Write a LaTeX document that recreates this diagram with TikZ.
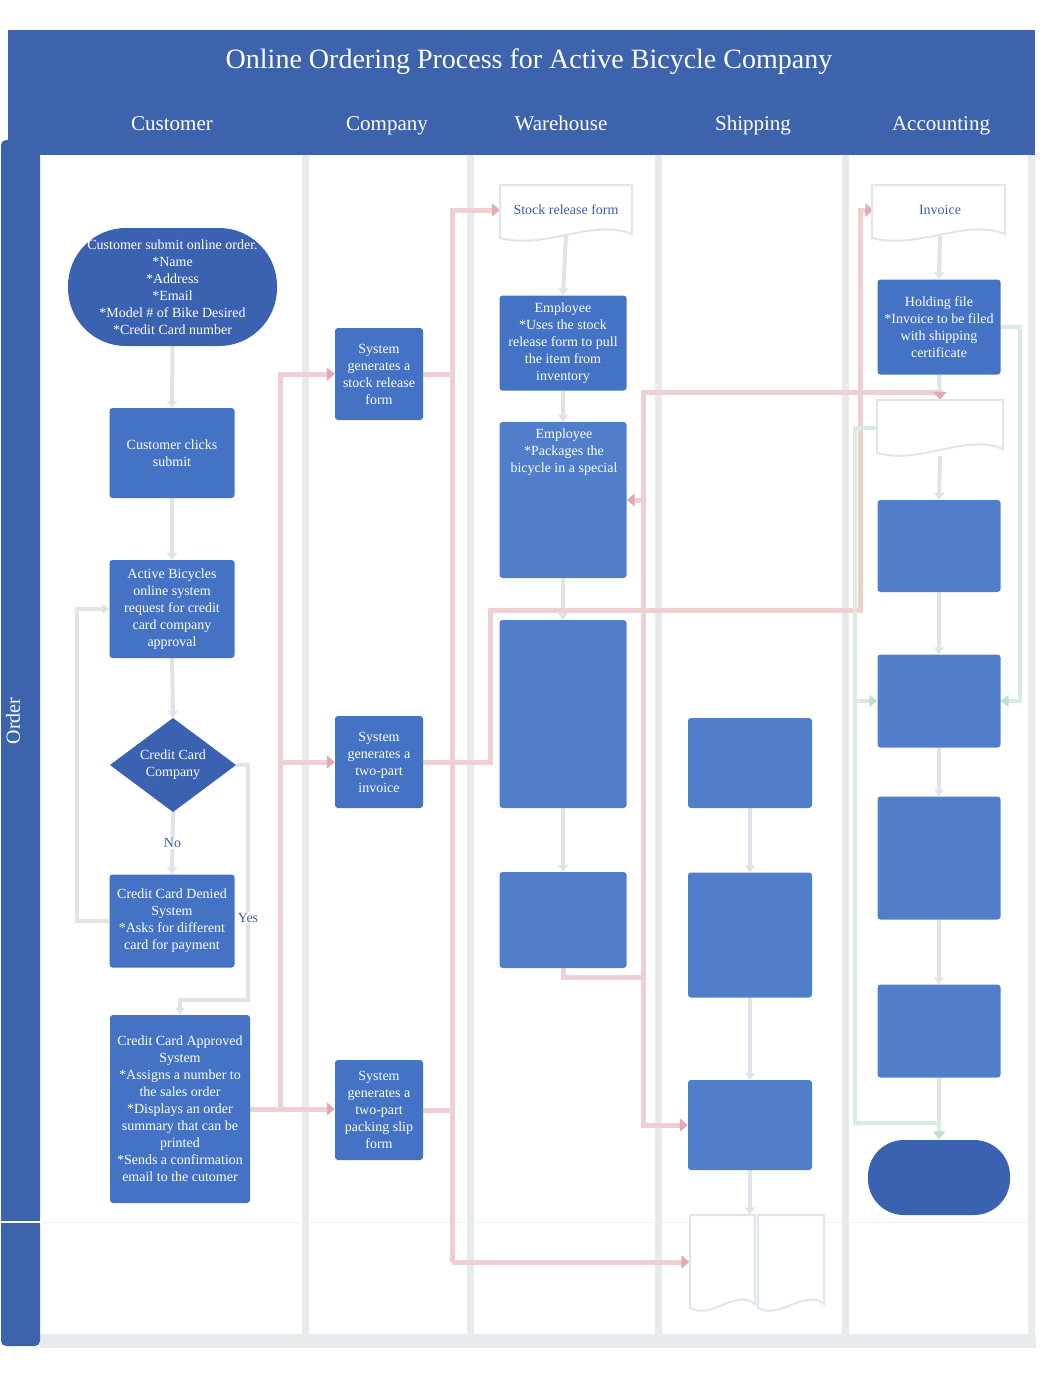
\documentclass[tikz,border=0pt]{standalone}
\usepackage{fontspec}
\setmainfont{Liberation Serif}
\usetikzlibrary{arrows.meta}
\definecolor{hdrblue}{RGB}{62,99,173}
\definecolor{boxblue}{RGB}{68,114,196}
\definecolor{blankblue}{RGB}{80,126,202}
\definecolor{ellblue}{RGB}{58,98,176}
\definecolor{lanegray}{RGB}{231,235,238}
\definecolor{redline}{RGB}{238,208,211}
\definecolor{reddot}{RGB}{226,170,177}
\definecolor{greenline}{RGB}{216,237,224}
\definecolor{greendot}{RGB}{190,224,204}
\definecolor{grayline}{RGB}{224,228,232}
\definecolor{txtblue}{RGB}{59,94,168}
\definecolor{docline}{RGB}{222,229,238}
\newcommand\nodefont{\fontsize{14}{17}\selectfont}
\newcommand\docshape[4]{%
  \pgfmathsetmacro\dw{#3-#1}%
  \filldraw[draw=docline, line width=2pt, fill=white]
    (#1,#2) -- (#3,#2) -- (#3,#4-8)
    .. controls (#3-0.3*\dw,#4-24) and (#1+0.35*\dw,#4+8) .. (#1,#4-4) -- cycle;}
\pgfdeclarelayer{back}
\pgfdeclarelayer{conn}
\pgfsetlayers{back,conn,main}
\begin{document}
\begin{tikzpicture}[x=1pt,y=-1pt,
  txt/.style={inner sep=0pt, align=center, text=white, font=\nodefont},
  proc/.style={txt, fill=boxblue, rounded corners=3pt},
  blank/.style={fill=blankblue, rounded corners=3pt, inner sep=0pt},
  doctxt/.style={inner sep=0pt, align=center, text=txtblue, font=\nodefont},
  lbl/.style={inner sep=1pt, text=txtblue, font=\nodefont},
  lanelab/.style={text=white, font=\fontsize{21}{24}\selectfont, inner sep=0pt, anchor=base},
  gc/.style={draw=grayline, line width=4pt, -{Triangle[length=7pt,width=10pt]}},
  rc/.style={draw=redline, line width=5pt, -{Triangle[length=8pt,width=13pt,color=reddot]}},
  rcn/.style={draw=redline, line width=5pt},
  grc/.style={draw=greenline, line width=4pt, -{Triangle[length=8pt,width=12pt,color=greendot]}},
]
\useasboundingbox (0,0) rectangle (1062,1376);
\begin{pgfonlayer}{back}
\fill[white] (0,0) rectangle (1062,1376);
% frame
\fill[lanegray] (40,1334) rectangle (1036,1348);
\foreach \lx in {305,470,658,845,1031}
  \draw[lanegray, line width=7pt] (\lx,155) -- (\lx,1340);
\fill[hdrblue] (8,30) rectangle (1035,155);
\fill[hdrblue, rounded corners=5pt] (1,140) rectangle (40,1346);
\draw[white, line width=2pt] (0,1222) -- (42,1222);
\draw[lanegray!70, line width=1pt] (42,1222) -- (1036,1222);
\end{pgfonlayer}

% header
\node[text=white, font=\fontsize{28}{30}\selectfont, inner sep=0pt, anchor=base] (title) at (529,68) {Online Ordering Process for Active Bicycle Company};
\node[lanelab] (lcust) at (172,130) {Customer};
\node[lanelab] (lcomp) at (387,130) {Company};
\node[lanelab] (lware) at (561,130) {Warehouse};
\node[lanelab] (lship) at (753,130) {Shipping};
\node[lanelab] (lacct) at (941,130) {Accounting};
\node[text=white, font=\fontsize{20}{22}\selectfont, inner sep=0pt, rotate=90, anchor=center] (order) at (13,721) {Order};

% Customer lane
\fill[ellblue, rounded corners=58pt] (68,228) rectangle (277,346);
\node[txt, minimum width=209, minimum height=118] (cust) at (172.5,287) {Customer submit online order.\\*Name\\*Address\\*Email\\*Model \# of Bike Desired\\*Credit Card number};
\node[proc, minimum width=125, minimum height=90] (clicks) at (172,453) {Customer clicks\\submit};
\node[proc, minimum width=125, minimum height=98] (active) at (172,609) {Active Bicycles\\online system\\request for credit\\card company\\approval};
\fill[ellblue] (173,718) -- (236,765) -- (173,812) -- (110,765) -- cycle;
\node[txt, minimum width=126, minimum height=94] (cc) at (173,765) {Credit Card\\Company};
\node[proc, minimum width=125, minimum height=93] (denied) at (172,921) {Credit Card Denied\\System\\*Asks for different\\card for payment};
\node[proc, minimum width=140, minimum height=188] (approved) at (180,1109) {Credit Card Approved\\System\\*Assigns a number to\\the sales order\\*Displays an order\\summary that can be\\printed\\*Sends a confirmation\\email to the cutomer};

% Company lane
\node[proc, minimum width=88, minimum height=92] (stock) at (379,374) {System\\generates a\\stock release\\form};
\node[proc, minimum width=88, minimum height=92] (inv) at (379,762) {System\\generates a\\two-part\\invoice};
\node[proc, minimum width=88, minimum height=100] (pack) at (379,1110) {System\\generates a\\two-part\\packing slip\\form};

% Warehouse lane
\docshape{500}{185}{632}{242}
\node[doctxt, minimum width=132, minimum height=50] (sform) at (566,210) {Stock release form};
\node[proc, minimum width=127, minimum height=95] (emp1) at (563,343) {Employee\\*Uses the stock\\release form to pull\\the item from\\inventory};
\node[blank, minimum width=127, minimum height=156] (emp2) at (563,500) {};
\node[txt, anchor=north] (emp2t) at (564,429) {Employee\\*Packages the\\bicycle in a special};
\node[blank, minimum width=127, minimum height=188] (wb3) at (563,714) {};
\node[blank, minimum width=127, minimum height=96] (wb4) at (563,920) {};

% Shipping lane
\node[blank, minimum width=124, minimum height=90] (ship1) at (750,763) {};
\node[blank, minimum width=124, minimum height=125] (ship2) at (750,935) {};
\node[blank, minimum width=124, minimum height=90] (ship3) at (750,1125) {};
\docshape{690}{1215}{755}{1312}
\docshape{758}{1215}{824}{1312}
\node[inner sep=0pt, minimum width=65, minimum height=95] (shipdocL) at (722,1262) {};
\node[inner sep=0pt, minimum width=66, minimum height=95] (shipdocR) at (791,1262) {};

% Accounting lane
\docshape{872}{185}{1005}{242}
\node[doctxt, minimum width=133, minimum height=50] (invdoc) at (940,210) {Invoice};
\node[proc, minimum width=123, minimum height=95] (hold) at (939,327) {Holding file\\*Invoice to be filed\\with shipping\\certificate};
\docshape{877}{400}{1003}{457}
\node[inner sep=0pt, minimum width=126, minimum height=56] (faintdoc) at (940,428) {};
\node[blank, minimum width=123, minimum height=92] (ab2) at (939,546) {};
\node[blank, minimum width=123, minimum height=93] (ab3) at (939,701) {};
\node[blank, minimum width=123, minimum height=123] (ab4) at (939,858) {};
\node[blank, minimum width=123, minimum height=93] (ab5) at (939,1031) {};
\fill[ellblue, rounded corners=36pt] (868,1140) rectangle (1010,1215);
\node[inner sep=0pt, minimum width=142, minimum height=75] (acell) at (939,1177) {};

% connectors
\coordinate (rA) at (280,1109);
\coordinate (rB) at (452,1262);
\coordinate (rC) at (490,610);
\coordinate (rD) at (860,210);
\coordinate (rE) at (643,977);
\coordinate (rF) at (643,392);
\coordinate (gA) at (1020,701);
\coordinate (gC) at (855,1123);
\begin{pgfonlayer}{conn}
% gray flow
\draw[gc] (cust.south) -- (clicks.north);
\draw[gc] (clicks.south) -- (active.north);
\draw[gc] (active.south) -- (cc.north);
\draw[gc] (cc.south) -- node[lbl, fill=white] (nolbl) {No} (denied.north);
\draw[gc] (denied.west) -- ++(-32,0) |- (active.west);
\draw[gc] (cc.east) -- (248,765) -- node[lbl, fill=white, pos=0.65] (yeslbl) {Yes} (248,1000) -| (approved.north);
\draw[gc] (sform.south) -- (emp1.north);
\draw[gc] (emp1.south) -- (emp2.north);
\draw[gc] (emp2.south) -- (wb3.north);
\draw[gc] (wb3.south) -- (wb4.north);
\draw[gc] (ship1.south) -- (ship2.north);
\draw[gc] (ship2.south) -- (ship3.north);
\draw[gc] (ship3.south) -- (ship3.south |- shipdocL.north);
\draw[gc] (invdoc.south) -- (hold.north);
\draw[gc] (hold.south) -- (faintdoc.north);
\draw[gc] (faintdoc.south) -- (ab2.north);
\draw[gc] (ab2.south) -- (ab3.north);
\draw[gc] (ab3.south) -- (ab4.north);
\draw[gc] (ab4.south) -- (ab5.north);
\draw[gc] (ab5.south) -- (acell.north);
% red flow
\draw[rcn] (approved.east) -- (rA);
\draw[rc] (rA) -- (rA -| pack.west);
\draw[rc] (rA) |- (stock.west);
\draw[rc] (rA |- inv.west) -- (inv.west);
\draw[rcn] (stock.east) -- (stock.east -| rB);
\draw[rcn] (pack.east) -- (pack.east -| rB);
\draw[rc] (rB) |- (sform.west);
\draw[rc] (rB) -- (shipdocL.west);
\draw[rc] (inv.east) -| (rC) -| (rD) -- (invdoc.west);
\draw[rc] (wb4.south) |- (rE) -- (rF) -| (faintdoc.north);
\draw[rc] (rE |- emp2.east) -- (emp2.east);
\draw[rc] (rE) |- (ship3.west);
% green flow
\draw[grc] (hold.east) -| (gA) -- (ab3.east);
\draw[grc] (faintdoc.west) -| (gC) -| (acell.north);
\draw[grc] (gC |- ab3.west) -- (ab3.west);
\end{pgfonlayer}
\end{tikzpicture}
\end{document}
